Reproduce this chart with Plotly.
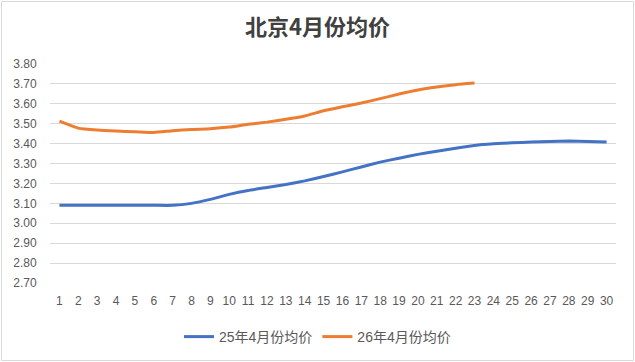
import plotly.graph_objects as go

days = list(range(1, 31))
tick_labels = [str(d) for d in days]
series_25_name = "25年4月份均价"
series_26_name = "26年4月份均价"
price_25 = [3.09, 3.09, 3.09, 3.09, 3.09, 3.09, 3.09, 3.10, 3.12, 3.145,
            3.165, 3.18, 3.195, 3.213, 3.235, 3.258, 3.283, 3.307, 3.327, 3.346,
            3.362, 3.377, 3.391, 3.399, 3.404, 3.408, 3.411, 3.413, 3.411, 3.408]
price_26 = [3.513, 3.478, 3.468, 3.463, 3.46, 3.456, 3.465, 3.471, 3.475, 3.483,
            3.497, 3.508, 3.522, 3.539, 3.565, 3.585, 3.604, 3.626, 3.649, 3.669,
            3.684, 3.696, 3.704]
y_ticks = [2.70, 2.80, 2.90, 3.00, 3.10, 3.20, 3.30, 3.40, 3.50, 3.60, 3.70, 3.80]
title_text = "北京4月份均价"

W, H = 635, 362
L, R, T, B = 50, 19, 64, 79

fig = go.Figure()
fig.add_trace(go.Scatter(x=days, y=price_25, mode="lines", name=series_25_name,
                         line=dict(color="#4472C4", width=3, shape="spline", smoothing=0.4)))
fig.add_trace(go.Scatter(x=days[:len(price_26)], y=price_26, mode="lines", name=series_26_name,
                         line=dict(color="#ED7D31", width=3, shape="spline", smoothing=0.5)))

pw = W - L - R
ph = H - T - B
fig.add_shape(type="rect", xref="paper", yref="paper",
              x0=(1.5 - L) / pw, x1=(633.5 - L) / pw,
              y0=(H - B - 360.5) / ph, y1=(H - B - 1.5) / ph,
              line=dict(color="#d9d9d9", width=1), fillcolor="rgba(0,0,0,0)", layer="below")

font_family = "Liberation Sans, Noto Sans CJK SC, sans-serif"
fig.update_layout(
    width=W, height=H,
    margin=dict(l=L, r=R, t=T, b=B),
    paper_bgcolor="white", plot_bgcolor="white",
    font=dict(family=font_family, color="#595959", size=12),
    title=dict(text="<b>" + title_text + "</b>", x=0.5, xref="container", xanchor="center",
               y=1 - 27 / H, yref="container", yanchor="middle",
               font=dict(size=22, color="#404040", family="Noto Sans CJK SC, sans-serif")),
    legend=dict(orientation="h", xref="container", x=0.5, xanchor="center",
                yref="container", y=1 - 337 / H, yanchor="middle",
                font=dict(size=14, color="#595959", family=font_family),
                itemwidth=30, tracegroupgap=0),
    showlegend=True,
)
fig.update_xaxes(range=[0.5, 30.5], tickmode="array", tickvals=days, ticktext=tick_labels,
                 showgrid=False, zeroline=False, showline=False,
                 ticks="outside", ticklen=7, tickcolor="rgba(0,0,0,0)",
                 tickfont=dict(size=12, color="#595959"))
fig.update_yaxes(range=[2.70, 3.80], tickmode="array", tickvals=y_ticks,
                 ticktext=[f"{v:.2f}" for v in y_ticks],
                 showgrid=True, gridcolor="#d9d9d9", gridwidth=1, zeroline=False, showline=False,
                 ticks="outside", ticklen=10, tickcolor="rgba(0,0,0,0)",
                 tickfont=dict(size=12, color="#595959"))

fig.write_html("out.html", config={"displayModeBar": False},
               post_script="document.body.style.margin='0';document.body.style.overflow='hidden';")
